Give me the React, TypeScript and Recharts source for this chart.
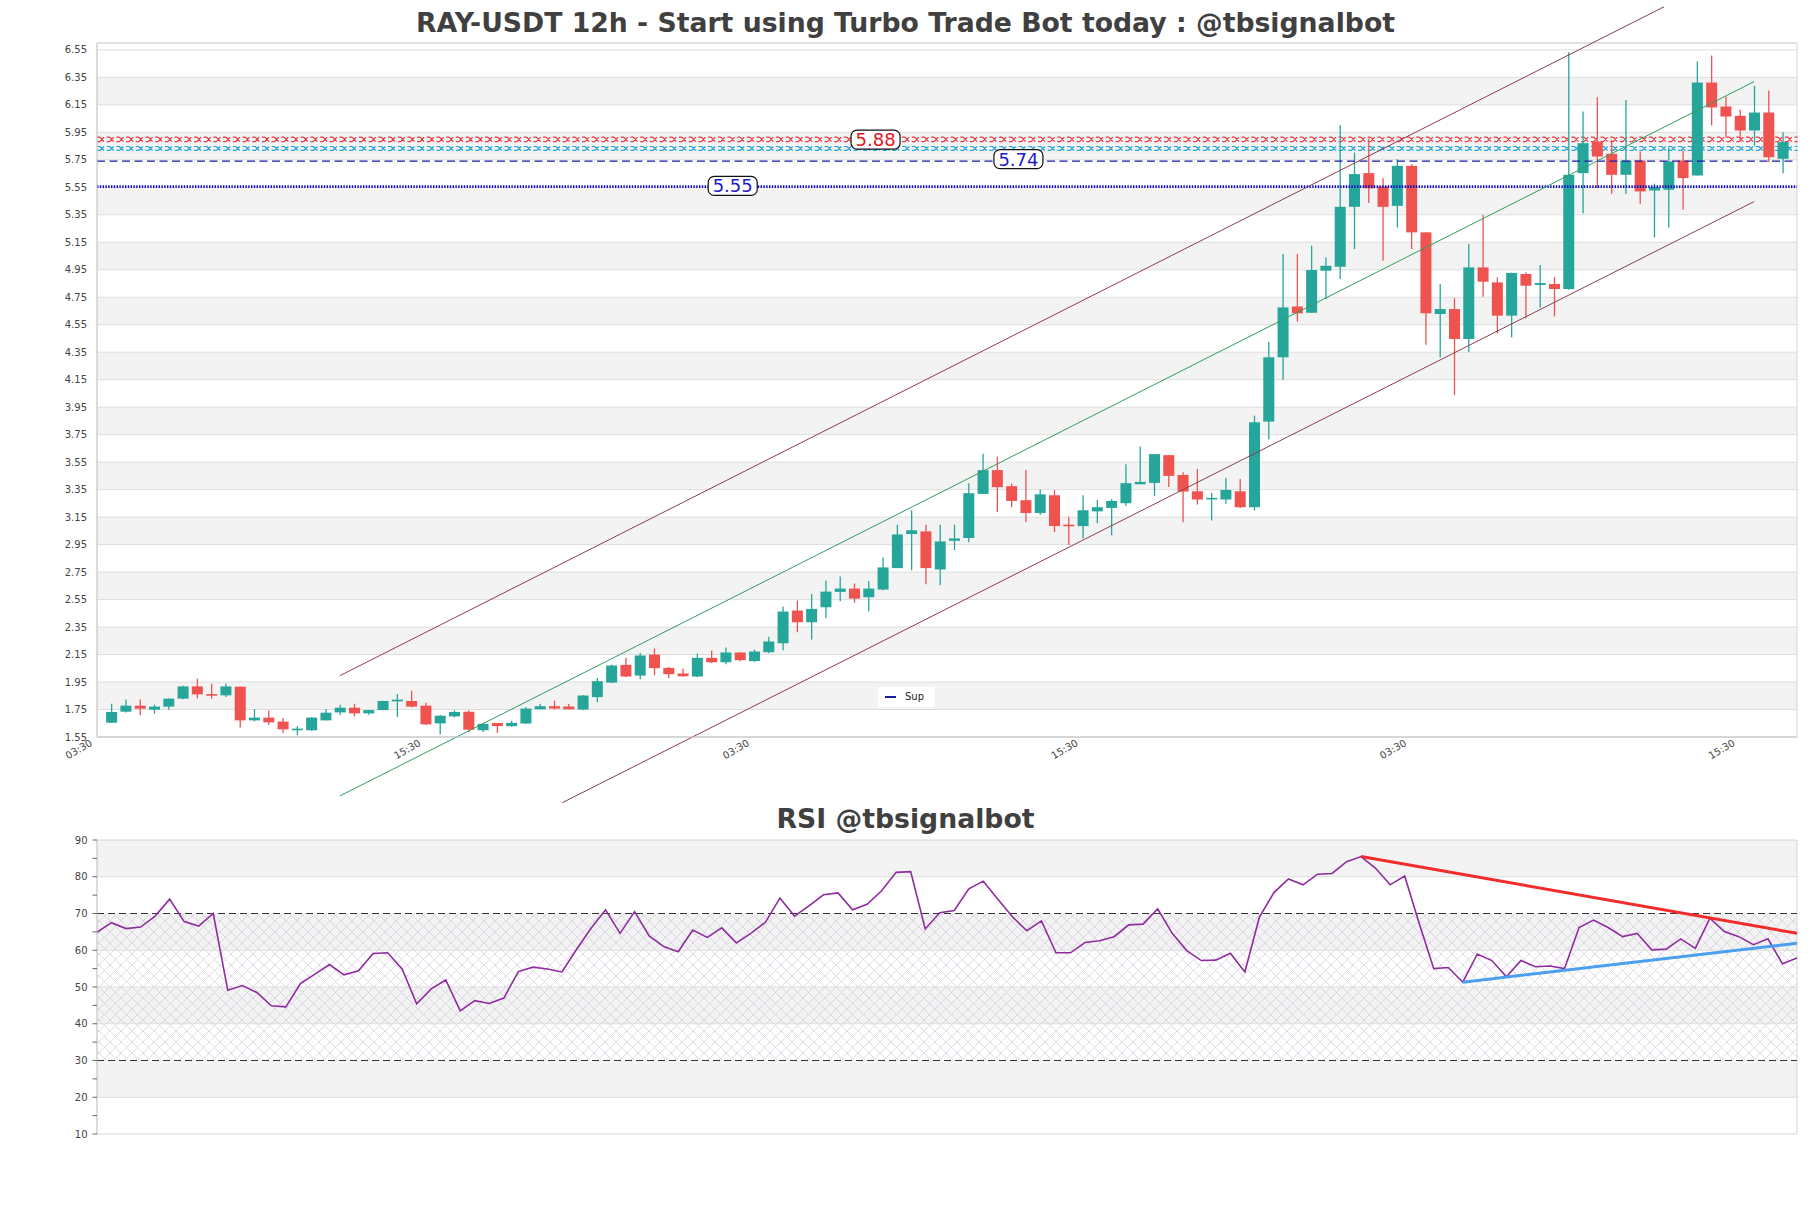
import {
  ComposedChart, Bar, Line, XAxis, YAxis, CartesianGrid, ReferenceLine, ReferenceArea, ReferenceDot,
} from 'recharts';

const opens = [
  1.654, 1.734, 1.778, 1.749, 1.771, 1.829, 1.918, 1.862, 1.853, 1.916,
  1.671, 1.691, 1.662, 1.599, 1.599, 1.671, 1.729, 1.763, 1.722, 1.746,
  1.809, 1.812, 1.778, 1.649, 1.700, 1.734, 1.599, 1.652, 1.629, 1.648,
  1.752, 1.774, 1.772, 1.750, 1.840, 1.946, 2.075, 1.997, 2.150, 2.053,
  2.012, 1.990, 2.126, 2.094, 2.165, 2.102, 2.167, 2.232, 2.470, 2.385,
  2.494, 2.606, 2.630, 2.567, 2.623, 2.779, 3.027, 3.046, 2.769, 2.978,
  2.998, 3.319, 3.492, 3.375, 3.273, 3.180, 3.309, 3.095, 3.085, 3.192,
  3.217, 3.251, 3.389, 3.399, 3.601, 3.457, 3.338, 3.282, 3.278, 3.338,
  3.222, 3.845, 4.313, 4.683, 4.637, 4.943, 4.972, 5.408, 5.653, 5.556,
  5.415, 5.706, 5.222, 4.628, 4.664, 4.446, 4.967, 4.858, 4.616, 4.919,
  4.839, 4.846, 4.810, 5.653, 5.883, 5.794, 5.641, 5.745, 5.527, 5.532,
  5.745, 5.636, 6.312, 6.138, 6.070, 5.963, 6.094, 5.757,
];
const highs = [
  1.792, 1.822, 1.822, 1.785, 1.830, 1.923, 1.974, 1.938, 1.938, 1.918,
  1.754, 1.742, 1.688, 1.628, 1.695, 1.754, 1.785, 1.792, 1.748, 1.814,
  1.863, 1.887, 1.800, 1.710, 1.744, 1.744, 1.652, 1.652, 1.668, 1.767,
  1.791, 1.815, 1.791, 1.853, 1.980, 2.077, 2.126, 2.162, 2.194, 2.060,
  2.048, 2.157, 2.179, 2.201, 2.165, 2.186, 2.279, 2.497, 2.543, 2.591,
  2.689, 2.718, 2.667, 2.686, 2.857, 3.095, 3.200, 3.095, 3.095, 3.095,
  3.397, 3.611, 3.591, 3.394, 3.492, 3.353, 3.346, 3.153, 3.309, 3.275,
  3.280, 3.535, 3.664, 3.608, 3.601, 3.476, 3.500, 3.326, 3.435, 3.428,
  3.888, 4.427, 5.064, 5.064, 5.125, 5.040, 6.002, 5.803, 5.905, 5.617,
  5.755, 5.718, 5.222, 4.846, 4.742, 5.137, 5.348, 4.894, 4.930, 4.931,
  4.984, 4.897, 6.533, 6.102, 6.206, 5.895, 6.186, 5.811, 5.576, 5.842,
  5.818, 6.465, 6.509, 6.211, 6.114, 6.288, 6.254, 5.951,
];
const lows = [
  1.652, 1.729, 1.708, 1.720, 1.749, 1.825, 1.831, 1.829, 1.841, 1.620,
  1.664, 1.637, 1.579, 1.562, 1.594, 1.671, 1.710, 1.700, 1.712, 1.744,
  1.695, 1.766, 1.637, 1.569, 1.693, 1.586, 1.586, 1.579, 1.624, 1.646,
  1.750, 1.750, 1.750, 1.745, 1.803, 1.942, 1.985, 1.971, 2.000, 1.978,
  1.988, 1.985, 2.089, 2.080, 2.102, 2.097, 2.160, 2.182, 2.312, 2.259,
  2.414, 2.538, 2.526, 2.465, 2.618, 2.779, 2.764, 2.662, 2.655, 2.910,
  2.968, 3.319, 3.187, 3.224, 3.114, 3.166, 3.041, 2.947, 2.995, 3.105,
  3.017, 3.231, 3.389, 3.304, 3.370, 3.113, 3.241, 3.125, 3.248, 3.217,
  3.198, 3.714, 4.150, 4.572, 4.637, 4.737, 4.882, 5.100, 5.435, 5.016,
  5.258, 5.100, 4.405, 4.313, 4.039, 4.349, 4.754, 4.487, 4.458, 4.596,
  4.676, 4.611, 4.805, 5.362, 5.544, 5.503, 5.503, 5.430, 5.185, 5.258,
  5.386, 5.636, 6.000, 5.912, 5.895, 5.852, 5.733, 5.653,
];
const closes = [
  1.732, 1.778, 1.756, 1.771, 1.829, 1.918, 1.860, 1.858, 1.918, 1.671,
  1.691, 1.657, 1.606, 1.611, 1.691, 1.727, 1.763, 1.722, 1.746, 1.812,
  1.822, 1.771, 1.642, 1.705, 1.732, 1.603, 1.645, 1.630, 1.653, 1.757,
  1.774, 1.757, 1.752, 1.852, 1.956, 2.070, 1.990, 2.143, 2.051, 2.007,
  1.992, 2.126, 2.094, 2.165, 2.109, 2.172, 2.245, 2.463, 2.385, 2.482,
  2.608, 2.630, 2.557, 2.630, 2.784, 3.024, 3.054, 2.779, 2.973, 2.995,
  3.324, 3.492, 3.368, 3.268, 3.180, 3.316, 3.085, 3.085, 3.200, 3.222,
  3.268, 3.397, 3.406, 3.608, 3.450, 3.336, 3.278, 3.290, 3.348, 3.222,
  3.840, 4.313, 4.676, 4.633, 4.948, 4.979, 5.408, 5.646, 5.542, 5.408,
  5.706, 5.222, 4.633, 4.664, 4.446, 4.967, 4.863, 4.616, 4.926, 4.834,
  4.853, 4.810, 5.641, 5.871, 5.774, 5.641, 5.745, 5.520, 5.551, 5.738,
  5.617, 6.312, 6.131, 6.065, 5.963, 6.094, 5.769, 5.879,
];
const rsiValues = [
  64.9, 67.5, 65.9, 66.3, 69.3, 73.9, 67.8, 66.6, 70.0, 49.1,
  50.4, 48.5, 44.9, 44.6, 50.9, 53.5, 56.1, 53.3, 54.4, 59.1,
  59.3, 54.9, 45.4, 49.5, 51.9, 43.5, 46.3, 45.5, 47.0, 54.2,
  55.4, 54.9, 54.1, 60.2, 66.0, 71.0, 64.6, 70.5, 63.9, 61.0,
  59.6, 65.5, 63.5, 66.1, 62.0, 64.6, 67.6, 74.2, 69.3, 72.1,
  75.1, 75.6, 71.0, 72.5, 76.2, 81.2, 81.4, 65.8, 70.2, 70.8,
  76.7, 78.8, 73.9, 69.1, 65.3, 68.0, 59.3, 59.3, 62.1, 62.6,
  63.7, 66.9, 67.1, 71.3, 64.6, 59.9, 57.2, 57.3, 59.2, 54.1,
  69.0, 75.7, 79.4, 77.8, 80.7, 80.9, 84.1, 85.5, 82.3, 77.8,
  80.2, 67.3, 55.0, 55.3, 51.3, 59.0, 57.2, 52.8, 57.2, 55.5,
  55.7, 55.0, 66.2, 68.2, 66.2, 63.7, 64.6, 60.1, 60.3, 63.1,
  60.5, 68.7, 65.1, 63.7, 61.5, 63.1, 56.3, 57.9,
];

const priceTicks = [
  1.55, 1.75, 1.95, 2.15, 2.35, 2.55, 2.75, 2.95, 3.15, 3.35, 3.55, 3.75, 3.95,
  4.15, 4.35, 4.55, 4.75, 4.95, 5.15, 5.35, 5.55, 5.75, 5.95, 6.15, 6.35, 6.55,
];
const timeTickIndex = [-1, 22, 45, 68, 91, 114];
const timeTickLabels = ['03:30', '15:30', '03:30', '15:30', '03:30', '15:30'];
const rsiTicks = [10, 15, 20, 25, 30, 35, 40, 45, 50, 55, 60, 65, 70, 75, 80, 85, 90];

// levels and channel
const resistanceRed = [5.883, 5.915];
const resistanceCyan = [5.818, 5.847];
const levelDashed = 5.74;
const levelSup = 5.555;
const tags = [
  { x: 53.5, y: 5.897, text: '5.88', color: '#e2141c' },
  { x: 63.5, y: 5.755, text: '5.74', color: '#1c1cc4' },
  { x: 43.5, y: 5.56, text: '5.55', color: '#1c1cc4' },
];
const channelUpper = [{ x: 16, y: 1.996 }, { x: 108.7, y: 6.864 }];
const channelMid = [{ x: 16, y: 1.121 }, { x: 115, y: 6.319 }];
const channelLower = [{ x: 31.57, y: 1.072 }, { x: 115, y: 5.446 }];
const rsiDownTrend = [{ x: 87, y: 85.5 }, { x: 117, y: 64.6 }];
const rsiUpTrend = [{ x: 94, y: 51.3 }, { x: 117, y: 61.9 }];

const candles = opens.map((o, i) => ({
  x: i, open: o, high: highs[i], low: lows[i], close: closes[i], range: [lows[i], highs[i]],
}));
const rsiData = rsiValues.map((v, i) => ({ x: i, rsi: v }));

const priceBands: number[][] = [];
for (let k = 1; k + 1 < priceTicks.length; k += 2) priceBands.push([priceTicks[k], priceTicks[k + 1]]);
const rsiBands = [[20, 30], [40, 50], [60, 70], [80, 90]];

const UP = '#26a69a';
const DOWN = '#ef5350';
const TEXT = '#444';

const Candle = (props: any) => {
  const { x, y, width, height, payload } = props;
  if (!payload) return null;
  const { open, close, high, low } = payload;
  const top = Math.min(y, y + height);
  const h = Math.abs(height);
  const ratio = h / (high - low || 1);
  const cx = x + width / 2;
  const color = close >= open ? UP : DOWN;
  const bodyTop = top + (high - Math.max(open, close)) * ratio;
  const bodyH = Math.max(Math.abs(open - close) * ratio, 1.6);
  return (
    <g>
      <line x1={cx} x2={cx} y1={top} y2={top + h} stroke={color} strokeWidth={1.3} />
      <rect x={cx - 5.5} y={bodyTop} width={11} height={bodyH} fill={color} />
    </g>
  );
};

const XBand = (props: any) => {
  const { x, y, width, height, color } = props;
  let d = '';
  const period = 9.7;
  for (let px = x; px < x + width - 1; px += period) {
    const e = Math.min(px + 9.7, x + width);
    d += `M${px},${y}H${px + 3}M${px},${y + height}H${px + 3}`;
    if (px + 7 <= e) d += `M${px + 3},${y}L${px + 7},${y + height}M${px + 7},${y}L${px + 3},${y + height}`;
  }
  return <path d={d} stroke={color} strokeWidth={1.2} fill="none" />;
};

const PriceTag = (props: any) => {
  const { cx, cy, text, color } = props;
  return (
    <g>
      <rect x={cx - 24.5} y={cy - 9.5} width={49} height={19} rx={6} fill="#fff" stroke="#111" strokeWidth={1.2} />
      <text x={cx} y={cy + 6.5} textAnchor="middle" fontSize={18} fill={color}>{text}</text>
    </g>
  );
};

const TimeTick = (props: any) => {
  const { x, y, payload } = props;
  const idx = timeTickIndex.indexOf(payload.value);
  const tx = x - 4;
  return (
    <text x={tx} y={y} textAnchor="end" fontSize={10} fill={TEXT} transform={`rotate(-30, ${tx}, ${y})`}>
      {idx >= 0 ? timeTickLabels[idx] : ''}
    </text>
  );
};

const RsiTick = (props: any) => {
  const { x, y, payload } = props;
  if (payload.value % 10 !== 0) return null;
  return (
    <text x={x} y={y} dy="0.355em" textAnchor="end" fontSize={10} fill={TEXT}>{payload.value}</text>
  );
};

const titleStyle: React.CSSProperties = {
  position: 'absolute', left: 0, width: 1811, textAlign: 'center', fontSize: 26.7, lineHeight: '27px',
  fontWeight: 'bold', color: '#404040',
};

export default function App() {
  return (
    <div style={{ position: 'absolute', left: 0, top: 0, width: 1811, height: 1208, background: '#fff', fontFamily: 'DejaVu Sans', overflow: 'hidden' }}>
      <div style={{ ...titleStyle, top: 9 }}>RAY-USDT 12h - Start using Turbo Trade Bot today : @tbsignalbot</div>

      <div style={{ position: 'absolute', left: 0, top: 0 }}>
        <ComposedChart width={1811} height={830} data={candles} margin={{ top: 43, right: 14, bottom: 43, left: 0 }}>
          {priceBands.map((b) => (
            <ReferenceArea key={`b${b[0]}`} y1={b[0]} y2={b[1]} fill="#f3f3f3" fillOpacity={1} stroke="none" zIndex={-150} />
          ))}
          <CartesianGrid vertical={false} stroke="#dddddd" />
          <XAxis
            type="number" dataKey="x" domain={[-1, 118]} ticks={timeTickIndex} tick={<TimeTick />}
            tickLine={false} axisLine={{ stroke: '#cccccc' }} height={50} allowDataOverflow interval={0}
          />
          <YAxis
            type="number" domain={[1.55, 6.6]} ticks={priceTicks} tickFormatter={(v: number) => v.toFixed(2)}
            tick={{ fontSize: 10, fill: TEXT }} tickLine={false} tickMargin={4} axisLine={{ stroke: '#cccccc' }}
            width={97} allowDataOverflow interval={0}
          />
          <ReferenceArea x1={-1} x2={118} y1={1.55} y2={6.6} fill="none" stroke="#d6d6d6" />
          <ReferenceArea y1={resistanceRed[0]} y2={resistanceRed[1]} shape={(p: any) => <XBand {...p} color="#e63a40" />} />
          <ReferenceArea y1={resistanceCyan[0]} y2={resistanceCyan[1]} shape={(p: any) => <XBand {...p} color="#26a4dc" />} />
          <ReferenceLine y={levelDashed} stroke="#1a1aa8" strokeWidth={1.3} strokeDasharray="8 4.5" />
          <ReferenceLine y={levelSup} stroke="#0a0ac8" strokeWidth={2.6} strokeDasharray="1.4 1.4" />
          <Bar dataKey="range" barSize={11} shape={<Candle />} isAnimationActive={false} />
          <ReferenceLine segment={channelUpper} stroke="#8c3d55" strokeWidth={1} ifOverflow="visible" />
          <ReferenceLine segment={channelMid} stroke="#2f9e60" strokeWidth={1} ifOverflow="visible" />
          <ReferenceLine segment={channelLower} stroke="#8c3d55" strokeWidth={1} ifOverflow="visible" />
          {tags.map((t) => (
            <ReferenceDot key={t.text} x={t.x} y={t.y} r={0} ifOverflow="visible"
              shape={(p: any) => <PriceTag {...p} text={t.text} color={t.color} />} />
          ))}
        </ComposedChart>
      </div>

      <div style={{ position: 'absolute', left: 878, top: 687, width: 57, height: 20, background: '#fff', fontSize: 10, color: '#222' }}>
        <div style={{ position: 'absolute', left: 7, top: 9, width: 11, height: 2, background: '#1a1aa8' }} />
        <div style={{ position: 'absolute', left: 27, top: 4, lineHeight: '12px' }}>Sup</div>
      </div>

      <div style={{ ...titleStyle, top: 805 }}>RSI @tbsignalbot</div>

      <div style={{ position: 'absolute', left: 0, top: 800 }}>
        <ComposedChart width={1811} height={360} data={rsiData} margin={{ top: 40, right: 14, bottom: 26, left: 0 }}>
          <defs>
            <pattern id="rsiHatch" width="11" height="11" patternUnits="userSpaceOnUse">
              <path d="M0,0L11,11M11,0L0,11" stroke="#cdc3d8" strokeWidth="0.6" />
            </pattern>
          </defs>
          {rsiBands.map((b) => (
            <ReferenceArea key={`r${b[0]}`} y1={b[0]} y2={b[1]} fill="#f3f3f3" fillOpacity={1} stroke="none" zIndex={-150} />
          ))}
          <ReferenceArea y1={30} y2={70} fill="url(#rsiHatch)" fillOpacity={1} stroke="none" />
          {[20, 40, 50, 60, 80].map((v) => (
            <ReferenceLine key={`g${v}`} y={v} stroke="#dddddd" />
          ))}
          <ReferenceArea x1={0} x2={117} y1={10} y2={90} fill="none" stroke="#d6d6d6" />
          <XAxis type="number" dataKey="x" domain={[0, 117]} hide />
          <YAxis
            type="number" domain={[10, 90]} ticks={rsiTicks} tick={<RsiTick />} tickSize={4.5} tickMargin={5}
            tickLine={{ stroke: '#666' }} axisLine={{ stroke: '#cccccc' }} width={97} interval={0}
          />
          <ReferenceLine y={70} stroke="#333" strokeDasharray="7 4" />
          <ReferenceLine y={30} stroke="#333" strokeDasharray="7 4" />
          <Line dataKey="rsi" stroke="#8e2c9e" strokeWidth={1.6} dot={false} isAnimationActive={false} />
          <ReferenceLine segment={rsiDownTrend} stroke="#f22b2b" strokeWidth={3} ifOverflow="visible" />
          <ReferenceLine segment={rsiUpTrend} stroke="#4aa0ee" strokeWidth={3} ifOverflow="visible" />
        </ComposedChart>
      </div>
    </div>
  );
}
